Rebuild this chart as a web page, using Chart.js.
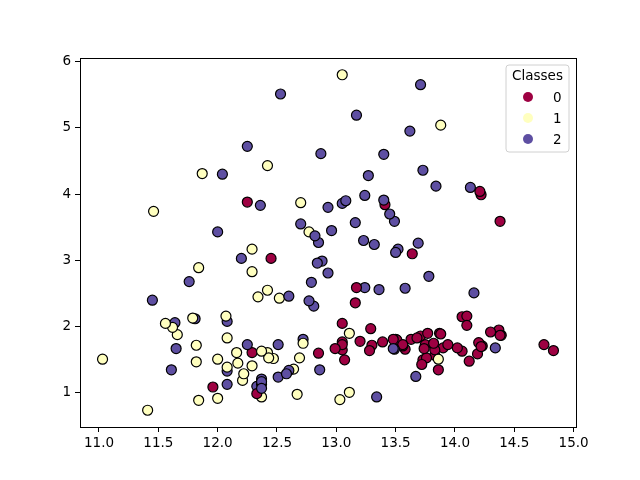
<!DOCTYPE html>
<html>
<head>
<meta charset="utf-8">
<script src="https://cdn.jsdelivr.net/npm/chart.js@4"></script>
<style>
  html, body { margin: 0; padding: 0; background: #fff; }
  canvas { display: block; }
</style>
</head>
<body>
<canvas id="wineChart" width="640" height="480"></canvas>
<script>
// Wine data: alcohol (x) vs malic acid (y), coloured by class
const alcohol = [
  14.23, 13.2, 13.16, 14.37, 13.24, 14.2, 14.39, 14.06, 14.83, 13.86, 14.1, 14.12, 13.75, 14.75, 14.38,
  13.63, 14.3, 13.83, 14.19, 13.64, 14.06, 12.93, 13.71, 12.85, 13.5, 13.05, 13.39, 13.3, 13.87, 14.02,
  13.73, 13.58, 13.68, 13.76, 13.51, 13.48, 13.28, 13.05, 13.07, 14.22, 13.56, 13.41, 13.88, 13.24, 13.05,
  14.21, 14.38, 13.9, 14.1, 13.94, 13.05, 13.83, 13.82, 13.77, 13.74, 13.56, 14.22, 13.29, 13.72,
  12.37, 12.33, 12.64, 13.67, 12.37, 12.17, 12.37, 13.11, 12.37, 13.34, 12.21, 12.29, 13.86, 13.49, 12.99,
  11.96, 11.66, 13.03, 11.84, 12.33, 12.7, 12.0, 12.72, 12.08, 13.05, 11.84, 12.67, 12.16, 11.65, 11.64,
  12.08, 12.08, 12.0, 12.69, 12.29, 11.62, 12.47, 11.81, 12.29, 12.37, 12.29, 12.08, 12.6, 12.34, 11.82,
  12.51, 12.42, 12.25, 12.72, 12.22, 11.61, 11.46, 12.52, 11.76, 11.41, 12.08, 11.03, 11.82, 12.42, 12.77,
  12.0, 11.45, 11.56, 12.42, 13.05, 11.87, 12.07, 12.43, 11.79, 12.37, 12.04,
  12.86, 12.88, 12.81, 12.7, 12.51, 12.6, 12.25, 12.53, 13.49, 12.84, 12.93, 13.36, 13.52, 13.62, 12.25,
  13.16, 13.88, 12.87, 13.32, 13.08, 13.5, 12.79, 13.11, 13.23, 12.58, 13.17, 13.84, 12.45, 14.34, 13.48,
  12.36, 13.69, 12.85, 12.96, 13.78, 13.73, 13.45, 12.82, 13.58, 13.4, 12.2, 12.77, 14.16, 13.71, 13.4,
  13.27, 13.17, 14.13
];
const malicAcid = [
  1.71, 1.78, 2.36, 1.95, 2.59, 1.76, 1.87, 2.15, 1.64, 1.35, 2.16, 1.48, 1.73, 1.73, 1.87,
  1.81, 1.92, 1.57, 1.59, 3.1, 1.63, 3.8, 1.86, 1.6, 1.81, 2.05, 1.77, 1.72, 1.9, 1.68,
  1.5, 1.66, 1.83, 1.53, 1.8, 1.81, 1.64, 1.65, 1.5, 3.99, 1.71, 3.84, 1.89, 3.98, 1.77,
  4.04, 3.59, 1.68, 2.02, 1.73, 1.73, 1.65, 1.75, 1.9, 1.67, 1.73, 1.7, 1.97, 1.43,
  0.94, 1.1, 1.36, 1.25, 1.13, 1.45, 1.21, 1.01, 1.17, 0.94, 1.19, 1.61, 1.51, 1.66, 1.67,
  1.09, 1.88, 0.9, 2.89, 0.99, 3.87, 0.92, 1.81, 1.13, 3.86, 0.89, 0.98, 1.61, 1.67, 2.06,
  1.33, 1.83, 1.51, 1.53, 2.83, 1.99, 1.52, 2.12, 1.41, 1.07, 3.17, 2.08, 1.34, 2.45, 1.72,
  1.73, 2.55, 1.73, 1.75, 1.29, 1.35, 3.74, 2.43, 2.68, 0.74, 1.39, 1.51, 1.47, 1.61, 3.43,
  3.43, 2.4, 2.05, 4.43, 5.8, 4.31, 2.16, 1.53, 2.13, 1.63, 4.3,
  1.35, 2.99, 2.31, 3.55, 1.24, 2.46, 4.72, 5.51, 3.59, 2.96, 2.81, 2.56, 3.17, 4.95, 3.88,
  3.57, 5.04, 4.61, 3.24, 3.9, 3.12, 2.67, 1.9, 3.3, 1.29, 5.19, 4.12, 3.03, 1.68, 1.67,
  3.83, 3.26, 3.27, 3.45, 2.76, 4.36, 3.7, 3.37, 2.58, 4.6, 3.03, 2.39, 2.51, 5.65, 3.91,
  4.28, 2.59, 4.1
];
const classes = [
  0, 0, 0, 0, 2, 0, 0, 0, 0, 0, 0, 0, 0, 0, 0,
  0, 0, 0, 0, 0, 0, 2, 0, 0, 0, 0, 0, 0, 0, 0,
  0, 0, 0, 0, 0, 0, 0, 0, 0, 0, 0, 0, 0, 2, 0,
  0, 0, 0, 0, 0, 0, 0, 0, 0, 0, 0, 0, 0, 0,
  1, 2, 1, 2, 2, 1, 2, 1, 2, 2, 1, 0, 1, 2, 0,
  0, 1, 1, 1, 0, 1, 1, 2, 2, 2, 1, 1, 1, 2, 2,
  2, 1, 1, 1, 1, 1, 1, 2, 1, 2, 1, 2, 2, 1, 1,
  2, 1, 2, 1, 1, 2, 1, 1, 2, 1, 1, 1, 1, 1, 1,
  2, 2, 1, 1, 1, 1, 1, 1, 1, 1, 2,
  2, 2, 2, 2, 2, 2, 2, 2, 2, 2, 2, 2, 2, 2, 0,
  2, 1, 2, 2, 2, 2, 2, 1, 2, 2, 2, 2, 0, 2, 2,
  2, 2, 2, 2, 2, 2, 2, 2, 2, 2, 2, 2, 2, 2, 2,
  2, 0, 2
];
const classLabels = ['0', '1', '2'];
const classColors = ['#9e0142', '#ffffbf', '#5e4fa2'];
const xTicks = [11.0, 11.5, 12.0, 12.5, 13.0, 13.5, 14.0, 14.5, 15.0];
const yTicks = [1, 2, 3, 4, 5, 6];

const font = { family: 'DejaVu Sans', size: 13.5 };

const points = alcohol.map((x, i) => ({ x: x, y: malicAcid[i] }));

// box around the plot + legend inside upper right
const framePlugin = {
  id: 'frame',
  afterDraw(chart) {
    const ctx = chart.ctx;
    const a = chart.chartArea;
    ctx.save();
    ctx.strokeStyle = '#000';
    ctx.lineWidth = 1;
    ctx.strokeRect(a.left + 0.5, a.top + 0.5, a.right - a.left, a.bottom - a.top);

    // legend box
    const bx = 506, by = 65, bw = 63, bh = 87, r = 3;
    ctx.beginPath();
    ctx.moveTo(bx + r, by);
    ctx.arcTo(bx + bw, by, bx + bw, by + bh, r);
    ctx.arcTo(bx + bw, by + bh, bx, by + bh, r);
    ctx.arcTo(bx, by + bh, bx, by, r);
    ctx.arcTo(bx, by, bx + bw, by, r);
    ctx.closePath();
    ctx.fillStyle = 'rgba(255,255,255,0.8)';
    ctx.fill();
    ctx.strokeStyle = '#d0d0d0';
    ctx.stroke();

    ctx.font = font.size + 'px ' + font.family;
    ctx.fillStyle = '#000';
    ctx.textBaseline = 'middle';
    ctx.textAlign = 'center';
    ctx.fillText('Classes', bx + bw / 2, 76);
    ctx.textAlign = 'left';
    classLabels.forEach((lab, i) => {
      const y = 97 + i * 21;
      ctx.beginPath();
      ctx.arc(528, y, 5, 0, Math.PI * 2);
      ctx.fillStyle = classColors[i];
      ctx.fill();
      ctx.fillStyle = '#000';
      ctx.fillText(lab, 553, y + 1);
    });
    ctx.restore();
  }
};

new Chart(document.getElementById('wineChart'), {
  type: 'scatter',
  data: {
    datasets: [{
      data: points,
      backgroundColor: classes.map(c => classColors[c]),
      borderColor: '#000',
      borderWidth: 1.2,
      pointRadius: 5,
      pointHoverRadius: 5
    }]
  },
  options: {
    responsive: false,
    animation: false,
    devicePixelRatio: 1,
    layout: { padding: { top: 58, right: 64, left: 0, bottom: 0 } },
    plugins: {
      legend: { display: false },
      tooltip: { enabled: false }
    },
    scales: {
      x: {
        type: 'linear',
        min: 10.84,
        max: 15.02,
        afterBuildTicks: s => { s.ticks = xTicks.map(v => ({ value: v })); },
        afterFit: s => { s.height = 53; },
        ticks: {
          color: '#000',
          font: font,
          padding: 3,
          maxRotation: 0,
          callback: v => Number(v).toFixed(1)
        },
        grid: { drawOnChartArea: false, drawTicks: true, tickLength: 5, color: '#000', lineWidth: 1 },
        border: { display: true, color: '#000', width: 1 }
      },
      y: {
        type: 'linear',
        min: 0.487,
        max: 6.053,
        afterBuildTicks: s => { s.ticks = yTicks.map(v => ({ value: v })); },
        afterFit: s => { s.width = 80; },
        ticks: {
          color: '#000',
          font: font,
          padding: 4,
          callback: v => String(v)
        },
        grid: { drawOnChartArea: false, drawTicks: true, tickLength: 5, color: '#000', lineWidth: 1 },
        border: { display: true, color: '#000', width: 1 }
      }
    }
  },
  plugins: [framePlugin]
});
</script>
</body>
</html>
